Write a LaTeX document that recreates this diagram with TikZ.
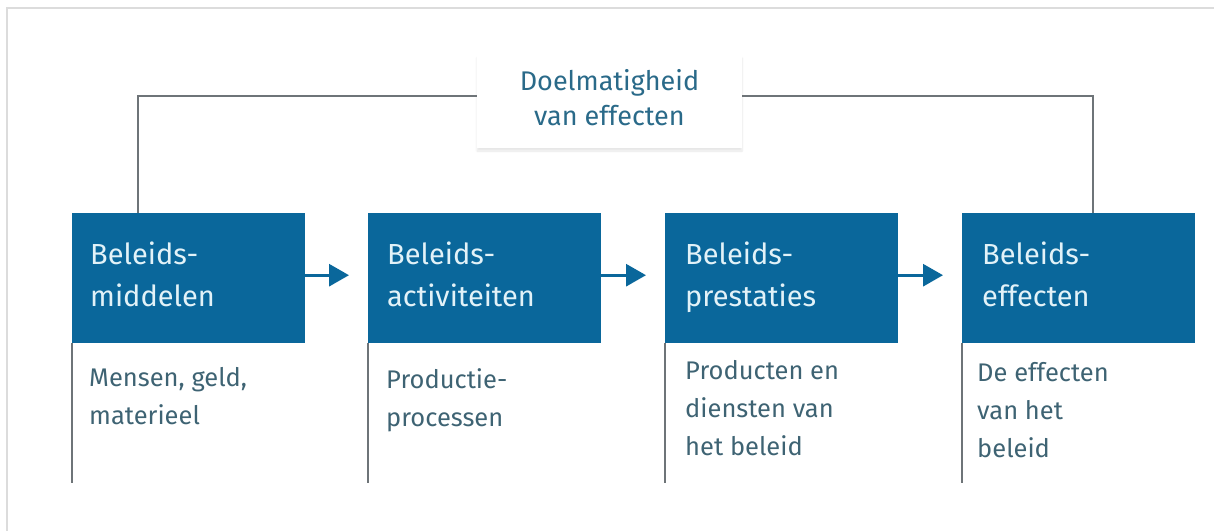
\documentclass[tikz,border=0pt]{standalone}
\usepackage{fontspec}
\setmainfont{Fira Sans}
\usetikzlibrary{arrows.meta,calc,shadows.blur}
\definecolor{rblue}{HTML}{0A679B}
\definecolor{boxtext}{HTML}{E2F2F8}
\definecolor{subtext}{HTML}{3E6373}
\definecolor{toptext}{HTML}{2A6A89}
\definecolor{connline}{HTML}{6E7478}
\definecolor{framegray}{HTML}{DCDCDC}
\tikzset{
  bluebox/.style={draw=none, fill=rblue, minimum width=233pt, minimum height=130pt, inner sep=0pt, anchor=north west},
  boxlabel/.style={anchor=north west, inner sep=0pt, align=left, text=boxtext, font=\fontsize{29}{42}\selectfont},
  sublabel/.style={anchor=north west, inner sep=0pt, align=left, text=subtext, font=\fontsize{25.5}{38}\selectfont},
  conn/.style={draw=connline, line width=1.6pt},
  flow/.style={draw=rblue, line width=3pt, -{Triangle[length=20pt,width=22pt]}, shorten >=19pt},
  sideline/.style={draw=connline, line width=1.6pt},
}
\begin{document}
\begin{tikzpicture}[x=1pt,y=-1pt]
\useasboundingbox (0,0) rectangle (1214,530);
% frame
\draw[framegray, line width=2pt] (7,531) -- (7,8) -- (1215,8);
% boxes
\node[bluebox] (b1) at (72,213) {};
\node[bluebox] (b2) at (368,213) {};
\node[bluebox] (b3) at (665,213) {};
\node[bluebox] (b4) at (962,213) {};
% box labels
\node[boxlabel] (l1) at (90,242) {Beleids-\\middelen};
\node[boxlabel] (l2) at (387,242) {Beleids-\\activiteiten};
\node[boxlabel] (l3) at (685,242) {Beleids-\\prestaties};
\node[boxlabel] (l4) at (982,242) {Beleids-\\effecten};
% side lines
\coordinate (e1) at (72,483);
\coordinate (e2) at (368,483);
\coordinate (e3) at (665,483);
\coordinate (e4) at (962,483);
\draw[sideline] (b1.south west) -- (e1);
\draw[sideline] (b2.south west) -- (e2);
\draw[sideline] (b3.south west) -- (e3);
\draw[sideline] (b4.south west) -- (e4);
% sub labels
\node[sublabel] (s1) at (89,367.5) {Mensen, geld,\\materieel};
\node[sublabel] (s2) at (386,368) {Productie-\\processen};
\node[sublabel] (s3) at (685,360) {Producten en\\diensten van\\het beleid};
\node[sublabel] (s4) at (977,362.5) {De effecten\\van het\\beleid};
% flow arrows
\draw[flow] ($(b1.east)+(0,-3)$) -- ($(b2.west)+(0,-3)$);
\draw[flow] ($(b2.east)+(0,-3)$) -- ($(b3.west)+(0,-3)$);
\draw[flow] ($(b3.east)+(0,-3)$) -- ($(b4.west)+(0,-3)$);
% top node
\node[fill=white, minimum width=265pt, minimum height=93pt, inner sep=0pt,
  blur shadow={shadow blur steps=6, shadow xshift=0pt, shadow yshift=-3pt, shadow opacity=10}]
  (doel) at (609.5,101.5) {};
\node[anchor=north, inner sep=0pt, align=center, text=toptext, font=\fontsize{27}{35}\selectfont] (dt) at (609.5,69.5) {Doelmatigheid\\van effecten};
\coordinate (c1) at ($(b1.north west)+(66,0)$);
\coordinate (c4) at ($(b4.north west)+(131,0)$);
\draw[conn] (c1) |- ($(doel.west)+(0,-5.5)$);
\draw[conn] ($(doel.east)+(0,-5.5)$) -| (c4);
\end{tikzpicture}
\end{document}
